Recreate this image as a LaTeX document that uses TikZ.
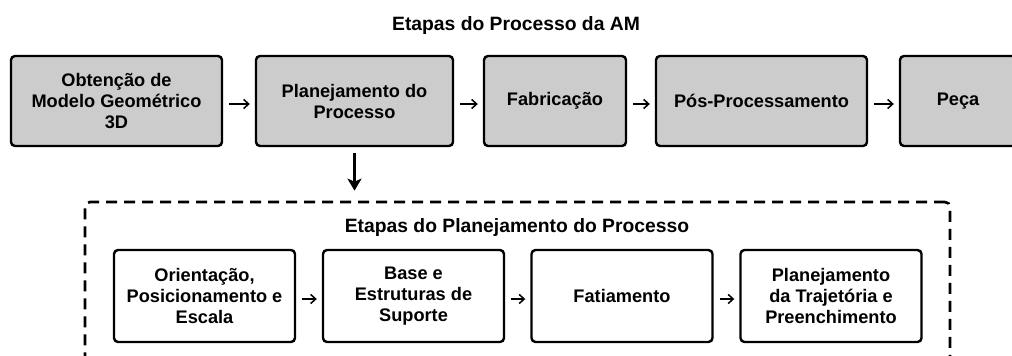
\documentclass[tikz,border=0pt]{standalone}
\usepackage{fontspec}
\setmainfont{Liberation Sans}
\usepackage{xcolor}
\usepackage{tikz}
\usetikzlibrary{arrows.meta,positioning,calc}

\begin{document}
\begin{tikzpicture}[
  x=1pt, y=-1pt,
  stage/.style={rectangle, draw, line width=2.4pt, fill=black!20, rounded corners=4pt,
                align=center, minimum height=90pt, inner sep=2pt,
                font=\fontsize{18.2}{21}\selectfont\bfseries},
  substage/.style={rectangle, draw, line width=2.4pt, fill=white, rounded corners=4pt,
                   align=center, minimum height=92pt, minimum width=181pt, inner sep=2pt,
                   font=\fontsize{18.2}{21}\selectfont\bfseries},
  frame/.style={rectangle, draw, line width=2.7pt, dash pattern=on 11pt off 7pt,
                rounded corners=5pt, minimum width=865pt, minimum height=168pt},
  ttl/.style={font=\fontsize{19.3}{22}\selectfont\bfseries, inner sep=0pt},
  arr/.style={-{Straight Barb[length=5pt,width=9pt]}, line width=1.5pt,
              shorten <=6pt, shorten >=5pt, transform canvas={yshift=-3pt}},
  down/.style={-{Stealth[length=12pt,width=14pt,inset=3pt]}, line width=2.4pt,
               shorten <=6pt, shorten >=10pt}
]
\useasboundingbox (0,0) rectangle (1012,356);

% main process
\node[ttl] (T1) at (516,26) {Etapas do Processo da AM};
\node[stage, minimum width=211pt] (M3D)  at (116.5,101) {Obtenção de\\Modelo Geométrico\\3D};
\node[stage, minimum width=197pt] (PP)   at (354.5,101) {Planejamento do\\Processo};
\node[stage, minimum width=142pt] (Fab)  at (555,101)   {Fabricação};
\node[stage, minimum width=211pt] (PosP) at (761.5,101) {Pós-Processamento};
\node[stage, minimum width=116pt] (Peca) at (958,101)   {Peça};
\draw[arr] (M3D.east)  -- (PP.west);
\draw[arr] (PP.east)   -- (Fab.west);
\draw[arr] (Fab.east)  -- (PosP.west);
\draw[arr] (PosP.east) -- (Peca.west);

% planning stages
\node[frame] (PPframe) at (517.5,286) {};
\draw[down] (PP.south) -- (PP.south |- PPframe.north);
\node[ttl] (T2) at (517,228) {Etapas do Planejamento do Processo};
\node[substage] (OPE) at (204.5,296) {Orientação,\\Posicionamento e\\Escala};
\node[substage] (BES) at (413.5,296) {Base e\\Estruturas de\\Suporte};
\node[substage] (Fat) at (622,296)   {Fatiamento};
\node[substage] (PTP) at (831,296)   {Planejamento\\da Trajetória e\\Preenchimento};
\draw[arr] (OPE.east) -- (BES.west);
\draw[arr] (BES.east) -- (Fat.west);
\draw[arr] (Fat.east) -- (PTP.west);
\end{tikzpicture}
\end{document}
